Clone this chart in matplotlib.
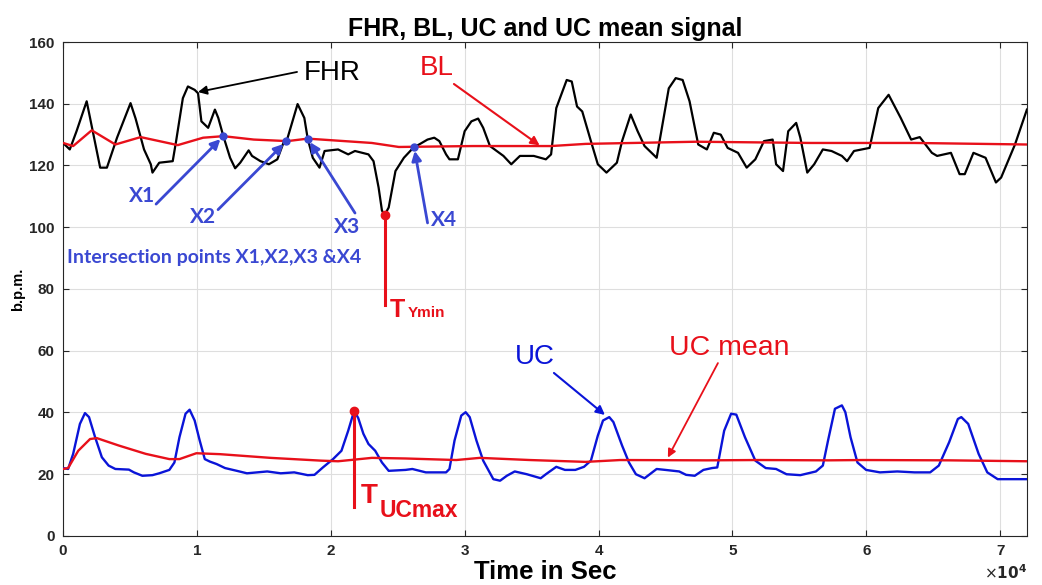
import numpy as np
import matplotlib.pyplot as plt

plt.rcParams["font.family"] = ["Liberation Sans", "DejaVu Sans"]

# FHR signal (time in s, b.p.m.)
FHR_T = [0, 504, 1008, 1765, 2017, 2773, 3277, 4033, 5042, 5420, 6050, 6555, 6681,
         7185, 8193, 8446, 8950, 9328, 9832, 10084, 10336, 10840, 11345, 11597, 11975,
         12479, 12857, 13235, 13865, 14117, 14748, 15378, 16008, 16512, 16689, 17521,
         18025, 18277, 18655, 19159, 19538, 20546, 21302, 21806, 22815, 23193, 23571,
         23823, 24025, 24327, 24832, 25462, 26218, 26596, 27226, 27731, 28109, 28613,
         28865, 29496, 30000, 30504, 31008, 31386, 31891, 32395, 32899, 33483, 34130,
         35164, 36069, 36457, 36845, 37624, 38000, 38397, 38785, 39431, 39948, 40595,
         41371, 41759, 42405, 42922, 43439, 44344, 45249, 45767, 46284, 46801, 47448,
         48094, 48612, 49129, 49646, 50422, 51068, 51715, 52361, 53008, 53266, 53783,
         54171, 54766, 55076, 55594, 56111, 56757, 57404, 58180, 58568, 59085, 60249,
         60895, 61671, 62576, 63352, 63998, 64903, 65291, 66326, 66972, 67360, 68007,
         68912, 69688, 70076, 71110, 72000]
FHR_V = [127.3, 125.2, 131.1, 140.8, 135.4, 119.3, 119.3, 129.0, 140.2, 135.2, 125.2,
         120.4, 117.7, 120.9, 121.4, 127.9, 141.8, 145.6, 144.5, 143.4, 134.3, 132.2,
         138.1, 135.4, 129.5, 122.5, 119.1, 120.9, 124.9, 123.1, 121.4, 120.4, 122.0,
         127.9, 127.7, 139.9, 135.4, 128.7, 122.5, 119.3, 124.7, 125.2, 123.6, 124.7,
         123.6, 121.4, 112.9, 105.4, 104.0, 106.4, 118.2, 122.5, 126.0, 126.8, 128.4,
         129.0, 127.9, 123.6, 122.0, 122.0, 131.1, 134.3, 135.2, 132.2, 126.3, 124.7,
         123.1, 120.4, 123.1, 123.1, 122.0, 123.6, 138.6, 147.7, 147.2, 139.1, 137.5,
         127.9, 120.4, 117.7, 120.9, 127.9, 136.5, 131.1, 126.3, 122.5, 145.0, 148.3,
         147.7, 140.8, 126.8, 125.2, 130.6, 130.0, 125.7, 124.1, 119.3, 122.0, 127.9,
         128.4, 120.4, 118.2, 131.1, 133.8, 129.0, 117.7, 120.4, 125.2, 124.7, 123.1,
         121.4, 124.7, 125.7, 138.6, 142.9, 135.4, 128.4, 129.2, 124.1, 123.1, 124.1,
         117.2, 117.2, 124.1, 122.5, 114.5, 116.1, 126.8, 138.1]

# FHR baseline
BL_T = [0, 756, 2143, 3908, 5798, 8571, 10462, 11975, 14243, 16765, 18277, 23067,
        25084, 30630, 36457, 39043, 47318, 55852, 63610, 72000]
BL_V = [127.3, 126.3, 131.4, 126.8, 129.2, 126.6, 129.0, 129.5, 128.4, 127.9, 128.7,
        127.3, 126.0, 126.3, 126.3, 127.0, 127.7, 127.3, 127.3, 126.8]

# uterine contractions
UC_T = [0, 378, 756, 1260, 1639, 1941, 2395, 2899, 3404, 3908, 4916, 5294, 5924, 6681,
        7185, 7941, 8319, 8697, 9151, 9454, 9832, 10210, 10588, 10966, 11471, 12101,
        12983, 13739, 15252, 16260, 17269, 18277, 18781, 19411, 20168, 20798, 21302,
        21750, 22050, 22436, 22815, 23319, 23823, 24327, 25588, 26092, 27101, 28613,
        28865, 29244, 29748, 30076, 30378, 30882, 31386, 32143, 32647, 33151, 33742,
        34647, 35681, 36069, 36845, 37492, 38267, 38914, 39431, 39948, 40336, 40802,
        41112, 41759, 42276, 42793, 43439, 44344, 44991, 46025, 46543, 47189, 47836,
        48482, 48870, 49387, 49905, 50293, 50939, 51715, 52491, 53266, 54042, 55076,
        56240, 56757, 57145, 57662, 58180, 58438, 58826, 59343, 59990, 61024, 62317,
        63610, 64774, 65420, 66196, 66843, 67101, 67618, 68394, 69041, 69817, 72000]
UC_V = [22.0, 21.7, 26.6, 36.3, 39.8, 38.5, 32.0, 25.5, 22.8, 21.7, 21.5, 20.6, 19.5,
        19.7, 20.3, 21.4, 23.8, 32.0, 39.6, 40.9, 37.4, 30.9, 24.9, 24.1, 23.3, 22.0,
        21.1, 20.3, 20.9, 20.3, 20.6, 19.7, 19.8, 22.2, 24.9, 27.6, 34.1, 40.6, 38.2,
        33.1, 29.8, 27.6, 23.8, 21.1, 21.4, 21.7, 20.6, 20.6, 21.7, 30.9, 39.0, 40.1,
        38.5, 30.9, 24.4, 18.4, 17.9, 19.5, 20.9, 20.0, 18.7, 20.0, 22.4, 21.4, 21.4,
        22.4, 24.4, 32.5, 37.4, 38.5, 36.9, 29.3, 23.8, 20.0, 18.7, 21.7, 21.4, 20.9,
        19.8, 19.5, 21.4, 22.0, 22.2, 34.1, 39.6, 39.3, 32.0, 24.4, 22.0, 21.7, 20.0,
        19.7, 20.9, 22.8, 30.9, 41.2, 42.3, 40.1, 32.0, 23.8, 21.4, 20.6, 20.9, 20.6,
        20.6, 22.8, 30.4, 37.9, 38.5, 36.3, 26.6, 20.6, 18.4, 18.4]

# UC mean
UCM_T = [0, 378, 1135, 2017, 2521, 4160, 6176, 7941, 8697, 9958, 11723, 15504, 19286,
         20546, 23067, 25588, 29370, 31134, 34866, 39043, 41630, 48094, 51974, 57145,
         59731, 66196, 72000]
UCM_V = [21.7, 22.0, 27.6, 31.4, 31.7, 29.3, 26.6, 24.9, 24.9, 26.8, 26.5, 25.3, 24.4,
         24.2, 25.3, 25.1, 24.6, 25.3, 24.6, 24.0, 24.6, 24.5, 24.6, 24.5, 24.6, 24.5,
         24.2]

# times where FHR crosses the baseline
X_TIMES = [11975, 16689, 18277, 26218]
X_NAMES = ["X1", "X2", "X3", "X4"]

XTICKS = [0, 10000, 20000, 30000, 40000, 50000, 60000, 70000]
XTICK_LABELS = ["0", "1", "2", "3", "4", "5", "6", "7"]
YTICKS = [0, 20, 40, 60, 80, 100, 120, 140, 160]

RED = "#e8101a"
BLUE = "#0a14d8"
MARK_BLUE = "#3a48d2"

fig = plt.figure(figsize=(10.42, 5.85), dpi=100)
ax = fig.add_axes([0.0605, 0.0838, 0.925, 0.8444])

ax.plot(FHR_T, FHR_V, color="black", lw=1.6, zorder=3)
ax.plot(BL_T, BL_V, color=RED, lw=1.7, zorder=4)
ax.plot(UC_T, UC_V, color=BLUE, lw=1.7, zorder=3)
ax.plot(UCM_T, UCM_V, color=RED, lw=1.7, zorder=4)

ax.set_xlim(0, 72000)
ax.set_ylim(0, 160)
ax.set_xticks(XTICKS)
ax.set_xticklabels(XTICK_LABELS)
ax.set_yticks(YTICKS)
ax.grid(True, color="#dedede", lw=0.8)
ax.set_axisbelow(True)
ax.tick_params(direction="in", length=4, top=True, right=True, labelsize=11,
               colors="#262626", pad=6)
for lab in ax.get_xticklabels() + ax.get_yticklabels():
    lab.set_fontweight("bold")
for sp in ax.spines.values():
    sp.set_color("#262626")
    sp.set_linewidth(0.8)

ax.set_title("FHR, BL, UC and UC mean signal", fontsize=18, fontweight="bold", pad=4)
ax.set_xlabel("Time in Sec", fontsize=18.5, fontweight="bold", labelpad=1)
ax.set_ylabel("b.p.m.", fontsize=10.5, fontweight="bold", labelpad=3)
ax.text(1.0, -0.074, r"$\times\mathbf{10^{4}}$", transform=ax.transAxes, ha="right",
        va="center", fontsize=11, color="#262626")

# intersection points
x_vals = np.interp(X_TIMES, BL_T, BL_V)
ax.plot(X_TIMES, x_vals, "o", color=MARK_BLUE, ms=5, zorder=5)
label_pos = [(5900, 110.1), (10490, 103.3), (21250, 100.2), (28490, 102.4)]
tail_pos = [(6950, 107.5), (11580, 105.7), (21810, 104.6), (27230, 101.4)]
for t, v, name, lp, tp in zip(X_TIMES, x_vals, X_NAMES, label_pos, tail_pos):
    ax.annotate("", xy=(t, v), xytext=tp,
                arrowprops=dict(arrowstyle="-|>", color=MARK_BLUE, lw=2,
                                mutation_scale=14, shrinkA=0, shrinkB=3))
    ax.text(lp[0], lp[1], name, color=MARK_BLUE, fontsize=15, fontweight="bold",
            family="Lato", ha="center", va="center")
ax.text(270, 90.2, "Intersection points X1,X2,X3 &X4", color=MARK_BLUE, fontsize=14,
        fontweight="bold", family="Lato", ha="left", va="center")

# FHR minimum
i_min = int(np.argmin(FHR_V))
t_min, v_min = FHR_T[i_min], FHR_V[i_min]
ax.plot([t_min, t_min], [v_min, 74.8], color=RED, lw=2.2, zorder=5)
ax.plot(t_min, v_min, "o", color=RED, ms=6, zorder=6)
ax.text(24400, 70.9, "T", color=RED, fontsize=18, fontweight="bold",
        ha="left", va="baseline")
ax.text(25740, 70.9, "Ymin", color=RED, fontsize=11, fontweight="bold",
        ha="left", va="baseline")

# UC maximum near the FHR deceleration
uc_t = np.array(UC_T)
uc_v = np.array(UC_V)
win = (uc_t > 20000) & (uc_t < 23000)
j = np.argmax(uc_v[win])
t_max, v_max = uc_t[win][j], uc_v[win][j]
ax.plot([t_max, t_max], [v_max, 9.5], color=RED, lw=2.2, zorder=5)
ax.plot(t_max, v_max, "o", color=RED, ms=6, zorder=6)
ax.text(22250, 10.6, "T", color=RED, fontsize=20, fontweight="bold",
        ha="left", va="baseline")
ax.text(23620, 6.25, "UCmax", color=RED, fontsize=16.5, fontweight="bold",
        ha="left", va="baseline")

# curve labels and their arrows
ax.text(17970, 149.8, "FHR", color="black", fontsize=20, ha="left", va="center")
ax.annotate("", xy=(10080, 143.8), xytext=(17480, 150.3),
            arrowprops=dict(arrowstyle="-|>", color="black", lw=1.3,
                            mutation_scale=13, shrinkA=0, shrinkB=0))
ax.text(26650, 151.7, "BL", color=RED, fontsize=20, ha="left", va="center")
ax.annotate("", xy=(35600, 126.5), xytext=(29200, 146.4),
            arrowprops=dict(arrowstyle="-|>", color=RED, lw=1.5,
                            mutation_scale=13, shrinkA=0, shrinkB=0))
ax.text(33760, 58.0, "UC", color=BLUE, fontsize=20, ha="left", va="center")
ax.annotate("", xy=(40480, 39.2), xytext=(36670, 52.8),
            arrowprops=dict(arrowstyle="-|>", color=BLUE, lw=1.5,
                            mutation_scale=13, shrinkA=0, shrinkB=0))
ax.text(45300, 60.9, "UC mean", color=RED, fontsize=20.5, ha="left", va="center")
ax.annotate("", xy=(45180, 25.4), xytext=(48920, 56.0),
            arrowprops=dict(arrowstyle="-|>", color=RED, lw=1.3,
                            mutation_scale=12, shrinkA=0, shrinkB=0))

fig.savefig("out.png", dpi=100)
